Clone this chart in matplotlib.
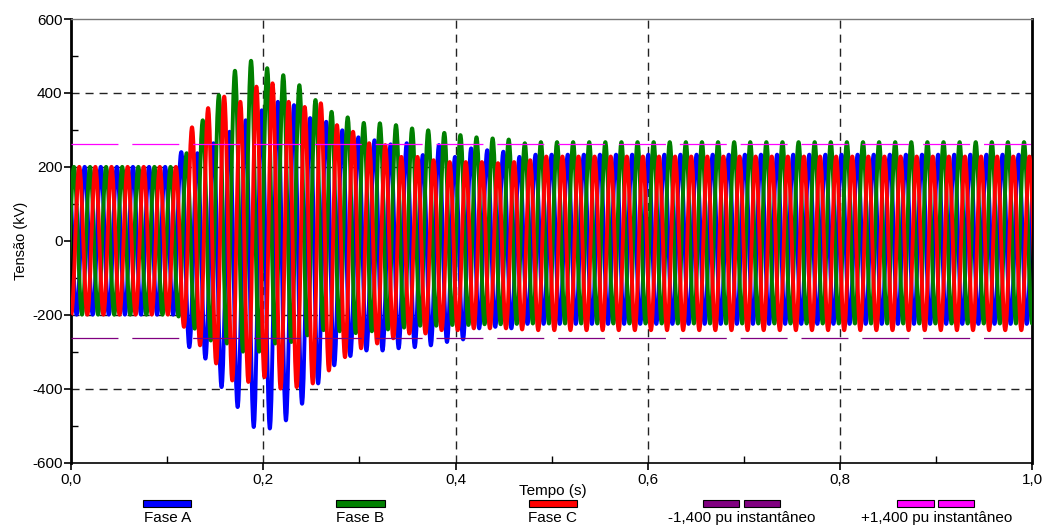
import matplotlib
matplotlib.use('Agg')
import matplotlib.pyplot as plt
from matplotlib.patches import Rectangle, PathPatch
from matplotlib.path import Path
import numpy as np

plt.rcParams['font.family'] = ['Liberation Sans', 'DejaVu Sans']
plt.rcParams['lines.scale_dashes'] = False

# Datos: picos por ciclo (kV), ciclo k = 0..61
periodo = 0.01675         # separacion medida entre picos (s)
t_pico_a = -0.0025        # instante del primer pico de la fase A (s)
desfase = [0, periodo / 3, 2 * periodo / 3]   # A, B, C

fase_a_max = [200] * 7 + [240, 237, 264, 295, 326, 353, 376, 367, 332, 322, 299,
                          280, 272, 261, 264, 232, 259, 227, 250, 245, 241, 227] + [233] * 33
fase_a_min = [-200] * 8 + [-288, -319, -396, -450, -504, -508, -486, -441, -386, -337,
                           -312, -297, -297, -291, -288, -283, -274, -267, -237, -233, -237] + [-225] * 33

fase_b_max = [200] * 7 + [237, 326, 394, 460, 487, 467, 448, 421, 381, 349, 334,
                          319, 318, 313, 304, 299, 292, 286, 280, 277, 274, 264] + [267] * 33
fase_b_min = [-200] * 7 + [-205, -238, -270, -278, -300, -300, -278, -274, -256, -242, -245,
                           -250, -245, -240, -235, -230, -230, -228, -228, -226, -226, -225] + [-224] * 33

fase_c_max = [200] * 7 + [307, 359, 390, 376, 417, 426, 376, 362, 372, 313, 295,
                          264, 259, 227, 227, 218, 213, 213, 213, 210, 213, 218] + [228] * 33
fase_c_min = [-200] * 7 + [-233, -283, -332, -378, -382, -369, -400, -396, -386, -351, -315,
                           -291, -278, -264, -251, -251, -242, -242, -237, -237, -237, -240] + [-242] * 33

limite_pu = 263           # 1,400 pu instantaneo (kV)

fases = [('Fase A', '#0000ff', fase_a_max, fase_a_min),
         ('Fase B', '#008000', fase_b_max, fase_b_min),
         ('Fase C', '#ff0000', fase_c_max, fase_c_min)]


def curva_onda(t, v, a=0.36):
    # une los extremos con curvas de Bezier de tangente horizontal en cada pico
    verts = [(t[0], v[0])]
    codes = [Path.MOVETO]
    for i in range(1, len(t)):
        dt = t[i] - t[i - 1]
        verts += [(t[i - 1] + a * dt, v[i - 1]), (t[i] - a * dt, v[i]), (t[i], v[i])]
        codes += [Path.CURVE4] * 3
    return Path(verts, codes)


fig = plt.figure(figsize=(10.45, 5.25), dpi=100)
ax = fig.add_axes([0.0679, 0.119, 0.9200, 0.8448])

# rejilla punteada
for xv in [0.2, 0.4, 0.6, 0.8]:
    ax.axvline(xv, color='#222222', lw=1.0, dashes=(5.8, 4.3), zorder=1)
for yv in [-400, -200, 0, 200, 400]:
    ax.axhline(yv, color='#222222', lw=1.0, dashes=(5.8, 4.3), zorder=1)

for i, (nombre, color, vmax, vmin) in enumerate(fases):
    k = np.arange(len(vmax))
    t_max = t_pico_a + desfase[i] + k * periodo
    t_min = t_max - periodo / 2
    t = np.column_stack([t_min, t_max]).ravel()
    v = np.column_stack([vmin, vmax]).ravel()
    ax.add_patch(PathPatch(curva_onda(t, v), facecolor='none', edgecolor=color,
                           lw=2.8, zorder=2 + i, joinstyle='round'))

ax.axhline(-limite_pu, color='#800080', lw=0.9, dashes=(33.8, 10), zorder=6)
ax.axhline(limite_pu, color='#ff00ff', lw=0.9, dashes=(33.8, 10), zorder=6)

ax.set_xlim(0, 1)
ax.set_ylim(-600, 600)
ax.set_xticks([0, 0.2, 0.4, 0.6, 0.8, 1.0])
ax.set_xticklabels(['0,0', '0,2', '0,4', '0,6', '0,8', '1,0'])
ax.set_xticks([0.1, 0.3, 0.5, 0.7, 0.9], minor=True)
ax.set_yticks([-600, -400, -200, 0, 200, 400, 600])
ax.set_yticklabels(['-600', '-400', '-200', '0', '200', '400', '600'])
ax.set_yticks([-500, -300, -100, 100, 300, 500], minor=True)
ax.tick_params(which='major', direction='out', length=5, width=1.2, labelsize=11)
ax.tick_params(axis='x', which='major', pad=2.5)
ax.tick_params(axis='y', which='major', pad=1)
ax.tick_params(which='minor', direction='in', length=5, width=1.0)

for lado in ['left', 'right']:
    ax.spines[lado].set_linewidth(2.0)
ax.spines['bottom'].set_linewidth(1.2)
ax.spines['top'].set_linewidth(1.0)
ax.spines['top'].set_color('#777777')

ax.set_ylabel('Tensão (kV)', fontsize=10.5, labelpad=3)
fig.text(0.529, 0.064, 'Tempo (s)', fontsize=11, ha='center', va='center')

# leyenda debajo del grafico
leyenda = [('Fase A', '#0000ff', 1, 0.160),
           ('Fase B', '#008000', 1, 0.345),
           ('Fase C', '#ff0000', 1, 0.529),
           ('-1,400 pu instantâneo', '#800080', 2, 0.710),
           ('+1,400 pu instantâneo', '#ff00ff', 2, 0.896)]
for texto, color, n, xc in leyenda:
    if n == 1:
        fig.add_artist(Rectangle((xc - 0.023, 0.035), 0.046, 0.012, transform=fig.transFigure,
                                 facecolor=color, edgecolor='black', lw=0.8))
    else:
        for x0 in [xc - 0.0375, xc + 0.0015]:
            fig.add_artist(Rectangle((x0, 0.035), 0.035, 0.012, transform=fig.transFigure,
                                     facecolor=color, edgecolor='black', lw=0.8))
    fig.text(xc, 0.013, texto, fontsize=11, ha='center', va='center')

fig.savefig('out.png', dpi=100)
